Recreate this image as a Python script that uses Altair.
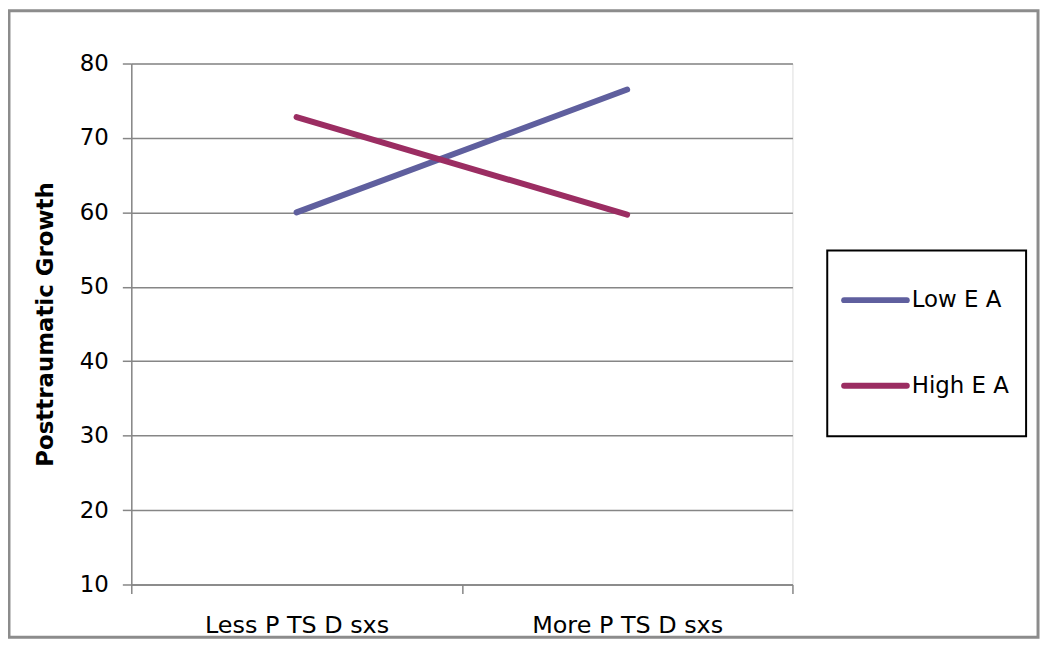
import altair as alt
import pandas as pd

# ---- data ----
conditions = ["Less P TS D sxs", "More P TS D sxs"]
series = ["Low E A", "High E A"]
low_ea = [60.0, 76.5]
high_ea = [72.8, 59.7]
colors = ["#5F5F9E", "#9B2D62"]
y_ticks = [10, 20, 30, 40, 50, 60, 70, 80]

rows = []
for c, v in zip(conditions, low_ea):
    rows.append({"cond": c, "series": series[0], "value": v})
for c, v in zip(conditions, high_ea):
    rows.append({"cond": c, "series": series[1], "value": v})
df = pd.DataFrame(rows)
leg_df = pd.DataFrame({"series": series})
one = pd.DataFrame({"a": [0]})

FONT = "DejaVu Sans"
GRAY = "#868686"
W, H = 665, 524

color_scale = alt.Scale(domain=series, range=colors)

x_enc = alt.X(
    "cond:N",
    sort=conditions,
    bandPosition=0.5,
    scale=alt.Scale(type="band", paddingInner=0, paddingOuter=0),
    axis=alt.Axis(
        title=None, tickBand="extent", labelAngle=0, labelFontSize=24,
        labelFont=FONT, labelColor="black", labelPadding=20, labelLimit=400,
        tickSize=9, tickColor=GRAY, domainColor=GRAY, grid=False,
        domainWidth=1.5, tickWidth=1.5,
    ),
)
y_enc = alt.Y(
    "value:Q",
    scale=alt.Scale(domain=[10, 80], nice=False, zero=False),
    axis=alt.Axis(
        values=y_ticks, title="Posttraumatic Growth", titleFont=FONT,
        titleFontSize=23, titleFontWeight="bold", titleColor="black",
        titlePadding=22, labelFont=FONT, labelFontSize=23, labelColor="black",
        labelPadding=14, tickSize=9, tickColor=GRAY, domainColor=GRAY,
        gridColor=GRAY, grid=True, domainWidth=1.5, tickWidth=1.5, gridWidth=1.5,
    ),
)

lines = alt.Chart(df).mark_line(strokeWidth=6, strokeCap="round").encode(
    x=x_enc,
    y=y_enc,
    color=alt.Color("series:N", scale=color_scale, legend=None),
    detail="series:N",
)

border = alt.Chart(one).mark_rect(fillOpacity=0, stroke="#8C8C8C", strokeWidth=3).encode(
    x=alt.value(-123), x2=alt.value(912), y=alt.value(-53), y2=alt.value(577)
)

legend_box = alt.Chart(one).mark_rect(fill="white", stroke="black", strokeWidth=2).encode(
    x=alt.value(700), x2=alt.value(900), y=alt.value(188), y2=alt.value(375)
)

legend_layers = []
for i, s in enumerate(series):
    ly = 238 + i * 86
    base = alt.Chart(leg_df).transform_filter(alt.datum.series == s)
    legend_layers.append(
        base.mark_rule(strokeWidth=6, strokeCap="round").encode(
            x=alt.value(717), x2=alt.value(780), y=alt.value(ly),
            color=alt.Color("series:N", scale=color_scale, legend=None),
        )
    )
    legend_layers.append(
        base.mark_text(align="left", baseline="middle", fontSize=23, font=FONT, color="black").encode(
            x=alt.value(785), y=alt.value(ly), text="series:N"
        )
    )

chart = alt.layer(border, legend_box, lines, *legend_layers).properties(
    width=W,
    height=H,
    autosize=alt.AutoSizeParams(type="none"),
    padding={"left": 124, "top": 54, "right": 251, "bottom": 55},
).configure_view(stroke=None).configure(background="white")

chart.save("out.html", embed_options={"renderer": "svg", "actions": False})
